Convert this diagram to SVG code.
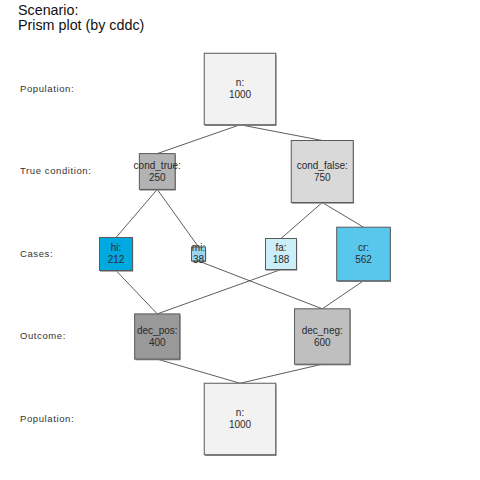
<svg xmlns="http://www.w3.org/2000/svg" width="480" height="480" viewBox="0 0 480 480">
<style>
.title{font-family:"Liberation Sans",Arial,sans-serif;font-size:14.3px;fill:#111}
.row{font-family:"Liberation Sans",Arial,sans-serif;font-size:9.5px;fill:#333;letter-spacing:0.6px}
.lbl{font-family:"Liberation Sans",Arial,sans-serif;font-size:10px;fill:#2a2a2a;text-anchor:middle}
.box{stroke:#5a5a5a;stroke-width:1}
.sh{fill:#8a8a8a}
.edge{stroke:#333;stroke-width:0.8;fill:none}
</style>
<rect width="480" height="480" fill="#ffffff"/>
<g id="title">
<text class="title" x="18" y="15">Scenario:</text>
<text class="title" x="18" y="30">Prism plot (by cddc)</text>
</g>
<g id="row-labels">
<text class="row" x="20" y="92">Population:</text>
<text class="row" x="20" y="174">True condition:</text>
<text class="row" x="20" y="257">Cases:</text>
<text class="row" x="20" y="339">Outcome:</text>
<text class="row" x="20" y="422">Population:</text>
</g>
<g id="connectors">
<line class="edge" x1="240" y1="124.75" x2="157.25" y2="153.6"/>
<line class="edge" x1="240" y1="124.75" x2="322.25" y2="140.5"/>
<line class="edge" x1="157.25" y1="189.4" x2="116" y2="237.5"/>
<line class="edge" x1="157.25" y1="189.4" x2="198.5" y2="247"/>
<line class="edge" x1="322.25" y1="202.5" x2="281" y2="238.5"/>
<line class="edge" x1="322.25" y1="202.5" x2="363.5" y2="227.2"/>
<line class="edge" x1="116" y1="270.5" x2="157.25" y2="313.9"/>
<line class="edge" x1="198.5" y1="261" x2="322.25" y2="308.8"/>
<line class="edge" x1="281" y1="269.5" x2="157.25" y2="313.9"/>
<line class="edge" x1="363.5" y1="280.8" x2="322.25" y2="308.8"/>
<line class="edge" x1="157.25" y1="359.1" x2="240" y2="383.25"/>
<line class="edge" x1="322.25" y1="364.2" x2="240" y2="383.25"/>
</g>
<g id="n-top">
<rect class="sh" x="205" y="54.5" width="71.5" height="71.5"/>
<rect class="box" x="204.25" y="53.25" width="71.5" height="71.5" fill="#f2f2f2"/>
<text class="lbl" x="240" y="86">n:</text>
<text class="lbl" x="240" y="98">1000</text>
</g>
<g id="cond_true">
<rect class="sh" x="140" y="154.8" width="35.8" height="35.8"/>
<rect class="box" x="139.35" y="153.6" width="35.8" height="35.8" fill="#b3b3b3"/>
<text class="lbl" x="157.25" y="168.5">cond_true:</text>
<text class="lbl" x="157.25" y="180.5">250</text>
</g>
<g id="cond_false">
<rect class="sh" x="292" y="141.7" width="62" height="62"/>
<rect class="box" x="291.25" y="140.5" width="62" height="62" fill="#d9d9d9"/>
<text class="lbl" x="322.25" y="168.5">cond_false:</text>
<text class="lbl" x="322.25" y="180.5">750</text>
</g>
<g id="hi">
<rect class="sh" x="100.2" y="238.7" width="33" height="33"/>
<rect class="box" x="99.5" y="237.5" width="33" height="33" fill="#00a9e0" stroke="#1f4f66"/>
<text class="lbl" x="116" y="251">hi:</text>
<text class="lbl" x="116" y="263">212</text>
</g>
<g id="mi">
<rect class="sh" x="192.2" y="248.2" width="14" height="14"/>
<rect class="box" x="191.5" y="247" width="14" height="14" fill="#9ad6ee" stroke="#3c6678"/>
<text class="lbl" x="198.5" y="251">mi:</text>
<text class="lbl" x="198.5" y="263">38</text>
</g>
<g id="fa">
<rect class="sh" x="266.2" y="239.7" width="31" height="31"/>
<rect class="box" x="265.5" y="238.5" width="31" height="31" fill="#cceef9" stroke="#6a7f88"/>
<text class="lbl" x="281" y="251">fa:</text>
<text class="lbl" x="281" y="263">188</text>
</g>
<g id="cr">
<rect class="sh" x="337.4" y="228.4" width="53.6" height="53.6"/>
<rect class="box" x="336.7" y="227.2" width="53.6" height="53.6" fill="#59c7eb" stroke="#2e6478"/>
<text class="lbl" x="363.5" y="251">cr:</text>
<text class="lbl" x="363.5" y="263">562</text>
</g>
<g id="dec_pos">
<rect class="sh" x="135.4" y="315.1" width="45.2" height="45.2"/>
<rect class="box" x="134.65" y="313.9" width="45.2" height="45.2" fill="#999999"/>
<text class="lbl" x="157.25" y="333.5">dec_pos:</text>
<text class="lbl" x="157.25" y="345.5">400</text>
</g>
<g id="dec_neg">
<rect class="sh" x="295.3" y="310" width="55.4" height="55.4"/>
<rect class="box" x="294.55" y="308.8" width="55.4" height="55.4" fill="#bfbfbf"/>
<text class="lbl" x="322.25" y="333.5">dec_neg:</text>
<text class="lbl" x="322.25" y="345.5">600</text>
</g>
<g id="n-bottom">
<rect class="sh" x="205" y="384.5" width="71.5" height="71.5"/>
<rect class="box" x="204.25" y="383.25" width="71.5" height="71.5" fill="#f2f2f2"/>
<text class="lbl" x="240" y="416">n:</text>
<text class="lbl" x="240" y="428">1000</text>
</g>
</svg>
